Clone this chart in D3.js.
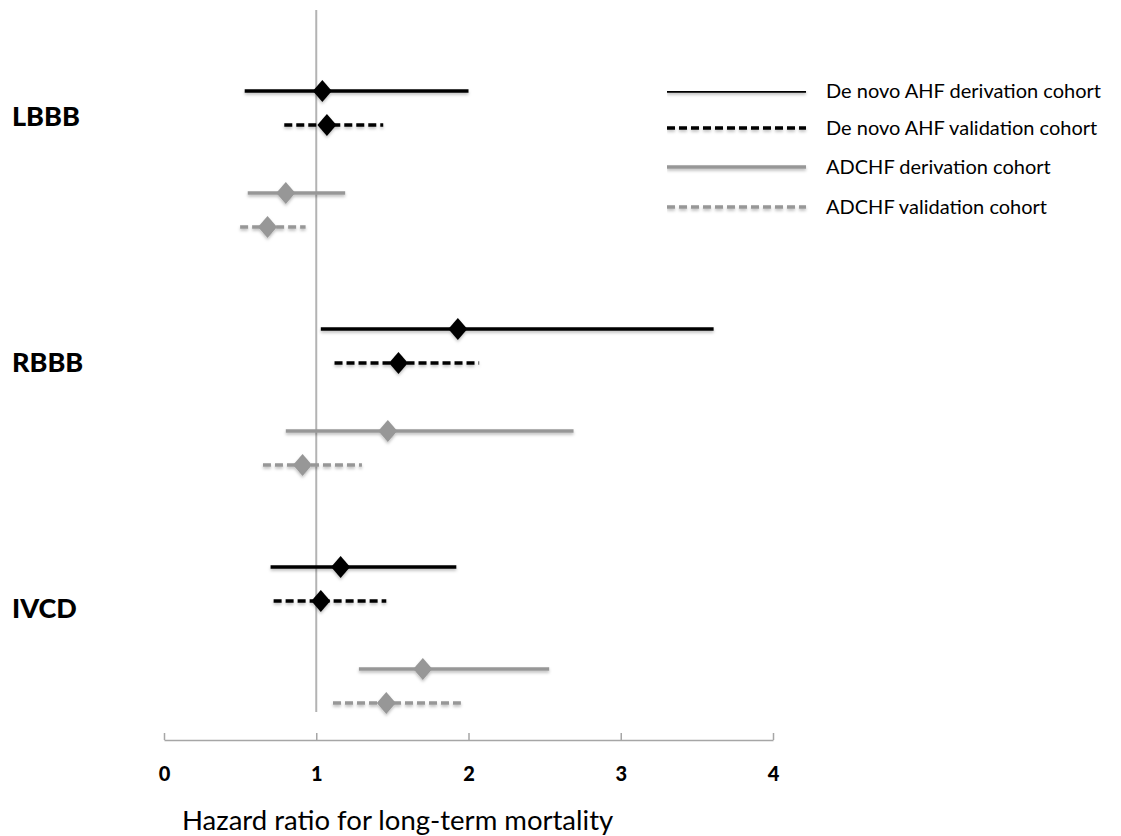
<!DOCTYPE html>
<html>
<head>
<meta charset="utf-8">
<script src="https://cdn.jsdelivr.net/npm/d3@7"></script>
<style>
  html, body { margin: 0; padding: 0; background: #fff; }
  svg { display: block; font-family: Lato, "Open Sans", sans-serif; }
</style>
</head>
<body>
<svg id="chart" width="1121" height="836"></svg>
<script>
// groups and series
const groups = ["LBBB", "RBBB", "IVCD"];
const series = [
  "De novo AHF derivation cohort",
  "De novo AHF validation cohort",
  "ADCHF derivation cohort",
  "ADCHF validation cohort",
];
// hazard ratios, one per group for each series [LBBB, RBBB, IVCD]
const estimate = [
  [1.04, 1.93, 1.16],
  [1.07, 1.54, 1.03],
  [0.80, 1.47, 1.70],
  [0.68, 0.91, 1.46],
];
const lower = [
  [0.53, 1.03, 0.70],
  [0.79, 1.12, 0.72],
  [0.55, 0.80, 1.28],
  [0.50, 0.65, 1.11],
];
const upper = [
  [2.00, 3.61, 1.92],
  [1.44, 2.07, 1.46],
  [1.19, 2.69, 2.53],
  [0.93, 1.30, 1.95],
];
const xTicks = [0, 1, 2, 3, 4];

const seriesColor = ["#000", "#000", "#979797", "#979797"];
const seriesDash = [null, "8,4", null, "8,4"];
const rowSlot = [0, 1, 3, 4]; // slot of each series inside a group
const groupSlots = 7;

const svg = d3.select("#chart");

// soft shadow like the original
svg.append("defs").html(`
  <filter id="shadow" filterUnits="userSpaceOnUse" x="0" y="0" width="1121" height="836">
    <feDropShadow dx="0" dy="2" stdDeviation="1.5" flood-color="#000" flood-opacity="0.25"/>
  </filter>`);

const x = d3.scaleLinear().domain([0, 4]).range([164, 773]);
const y = d3.scaleLinear().domain([0, 18]).range([91, 703]);
const yLabel = d3.scaleLinear().domain([0, 2]).range([116, 608]);

// reference line at HR = 1
svg.append("line")
  .attr("x1", x(1)).attr("x2", x(1))
  .attr("y1", 10).attr("y2", 712)
  .attr("stroke", "#b3b3b3")
  .attr("stroke-width", 2);

// X AXIS
const xAxis = d3.axisBottom(x)
  .tickValues(xTicks)
  .tickFormat(d3.format("d"))
  .tickSizeInner(-7)
  .tickSizeOuter(0)
  .tickPadding(27);
const xAxisG = svg.append("g")
  .attr("transform", "translate(0,740)")
  .call(xAxis);
xAxisG.select(".domain").attr("stroke", "#a6a6a6").attr("stroke-width", 1.5);
xAxisG.selectAll(".tick line").attr("stroke", "#a6a6a6").attr("stroke-width", 1.5);
xAxisG.selectAll(".tick text")
  .attr("fill", "#000")
  .style("font-size", "20px")
  .style("font-weight", "900")
  .style("font-family", "Lato, sans-serif");

svg.append("text")
  .attr("x", 182)
  .attr("y", 830)
  .style("font-size", "27.5px")
  .text("Hazard ratio for long-term mortality");

// group labels
groups.forEach((g, gi) => {
  svg.append("text")
    .attr("x", 12)
    .attr("y", yLabel(gi))
    .attr("dy", "0.36em")
    .style("font-size", "27px")
    .style("font-weight", "900")
    .text(g);
});

// intervals and point estimates
series.forEach((s, si) => {
  groups.forEach((g, gi) => {
    const yy = y(gi * groupSlots + rowSlot[si]);
    const pair = svg.append("g").attr("class", "pair").attr("filter", "url(#shadow)");
    pair.append("line")
      .attr("x1", x(lower[si][gi]))
      .attr("x2", x(upper[si][gi]))
      .attr("y1", yy).attr("y2", yy)
      .attr("stroke", seriesColor[si])
      .attr("stroke-width", 3.6)
      .attr("stroke-dasharray", seriesDash[si]);
    const cx = x(estimate[si][gi]);
    pair.append("path")
      .attr("d", `M${cx},${yy - 11}L${cx + 9.5},${yy}L${cx},${yy + 11}L${cx - 9.5},${yy}Z`)
      .attr("fill", seriesColor[si]);
  });
});

// LEGEND
const legend = svg.append("g").attr("transform", "translate(667,91)");
series.forEach((s, si) => {
  const ly = [0, 37, 76, 116][si];
  legend.append("line")
    .attr("x1", 0).attr("x2", 139)
    .attr("y1", ly).attr("y2", ly)
    .attr("stroke", seriesColor[si])
    .attr("stroke-width", 3.6)
    .attr("stroke-dasharray", seriesDash[si])
    .attr("filter", "url(#shadow)");
  legend.append("text")
    .attr("x", 159)
    .attr("y", ly + 7)
    .style("font-size", "20px")
    .text(s);
});
</script>
</body>
</html>
